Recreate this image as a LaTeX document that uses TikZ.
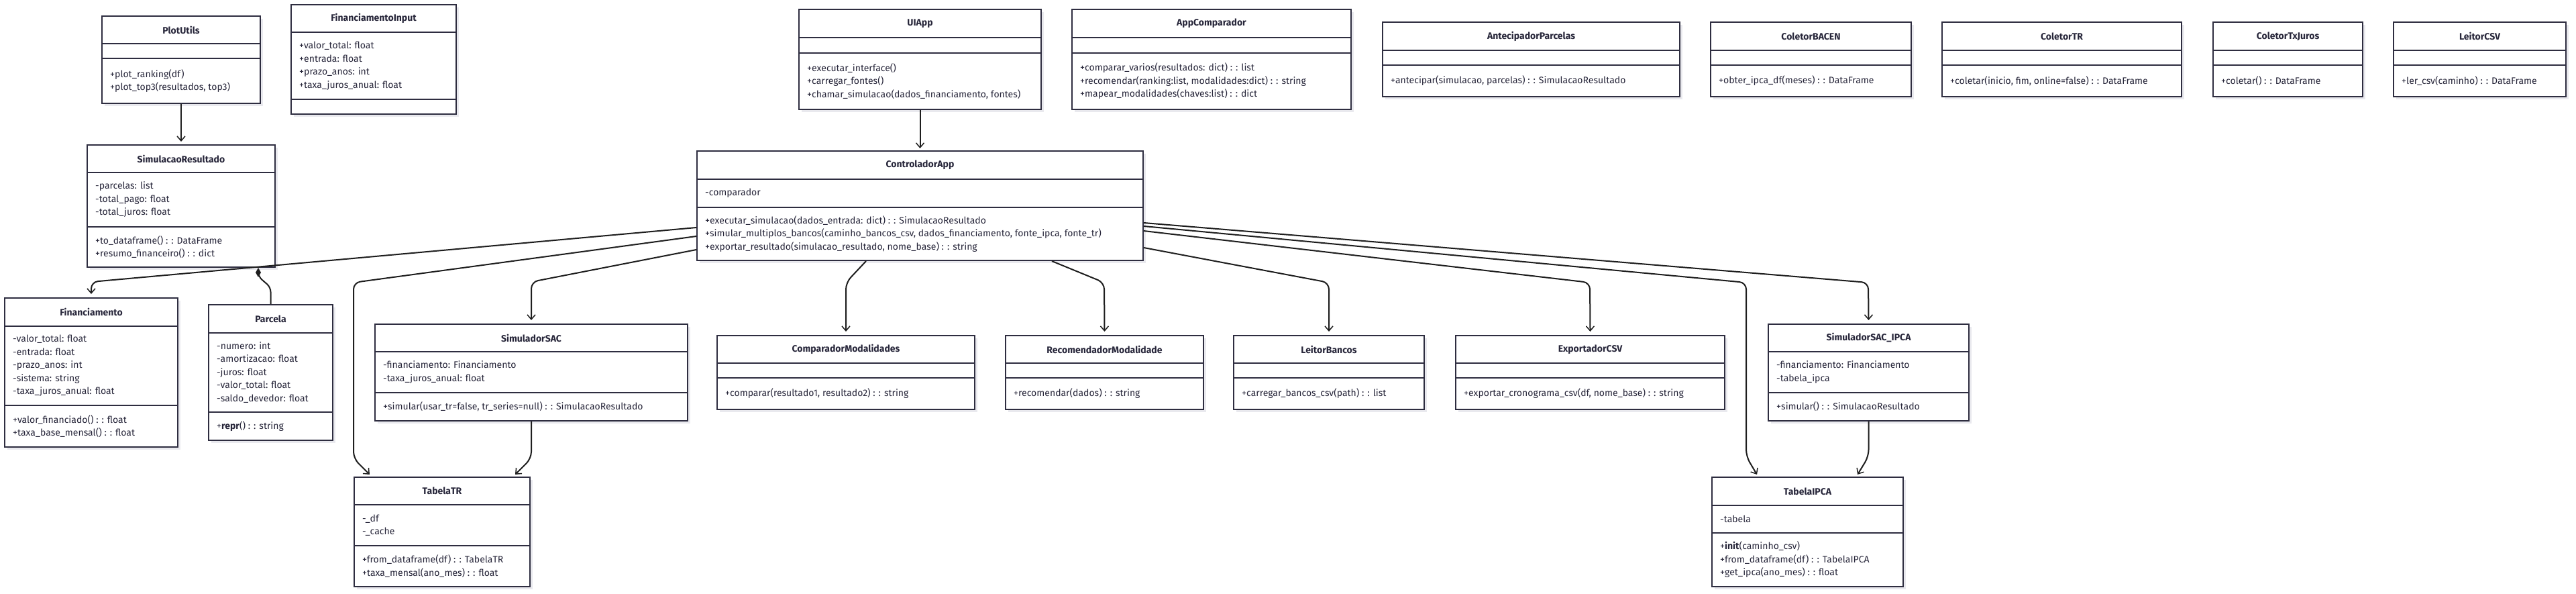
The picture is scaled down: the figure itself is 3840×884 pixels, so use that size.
\documentclass[tikz,border=0pt]{standalone}
\usepackage{fontspec}
\setmainfont{Fira Sans}
\usetikzlibrary{arrows.meta,fit}
\definecolor{textc}{HTML}{27263A}
\definecolor{linec}{HTML}{2E2D40}
\definecolor{connc}{HTML}{1E1E1E}
\definecolor{shadowc}{HTML}{E9E9EE}
\tikzset{
  classframe/.style={draw=linec, fill=white, line width=2pt, inner sep=0pt},
  sepline/.style={draw=linec, line width=2pt},
  titletext/.style={font=\fontsize{14}{16}\selectfont\bfseries, text=textc, inner sep=0pt},
  membertext/.style={font=\fontsize{14}{19.5}\selectfont, text=textc, align=left, inner sep=0pt},
  conn/.style={draw=connc, line width=2pt, rounded corners=10pt, -{Straight Barb[length=7pt,width=12pt,line width=1.5pt]}},
  comp/.style={draw=connc, line width=2pt, rounded corners=7pt, -{Diamond[length=14pt,width=8pt]}},
}
% name, x1, y1, x2, y2, sep1, sep2, title
\newcommand\umlframe[8]{%
  \fill[shadowc] (#2+4,#3+4) rectangle (#4+4,#5+4);
  \node[classframe, fit={(#2,#3)(#4,#5)}] (#1) {};
  \draw[sepline] (#2,#6) -- (#4,#6);
  \draw[sepline] (#2,#7) -- (#4,#7);
  \node[titletext] (#1-title) at ({(#2+#4)/2},{(#3+#6)/2}) {#8};
  \coordinate (#1-a) at (#2+12,{(#6+#7)/2});
  \coordinate (#1-m) at (#2+12,{(#7+#5)/2});
}
\newcommand\umlbody[3]{%
  \node[membertext, anchor=west] (#1-attr) at (#1-a) {#2};
  \node[membertext, anchor=west] (#1-meth) at (#1-m) {#3};
}
\begin{document}
\begin{tikzpicture}[x=1pt,y=-1pt]
\useasboundingbox[fill=white] (0,0) rectangle (3840,884);

% top row
\umlframe{PlotUtils}{152}{24}{388}{154}{65}{87}{PlotUtils}
\umlbody{PlotUtils}{}{+plot\_ranking(df)\\+plot\_top3(resultados, top3)}
\umlframe{FinanciamentoInput}{434}{7}{680}{170}{48}{148}{FinanciamentoInput}
\umlbody{FinanciamentoInput}{+valor\_total: float\\+entrada: float\\+prazo\_anos: int\\+taxa\_juros\_anual: float}{}
\umlframe{UIApp}{1191}{14}{1552}{163}{56}{79}{UIApp}
\umlbody{UIApp}{}{+executar\_interface()\\+carregar\_fontes()\\+chamar\_simulacao(dados\_financiamento, fontes)}
\umlframe{AppComparador}{1598}{14}{2014}{163}{56}{79}{AppComparador}
\umlbody{AppComparador}{}{+comparar\_varios(resultados: dict) : : list\\+recomendar(ranking:list, modalidades:dict) : : string\\+mapear\_modalidades(chaves:list) : : dict}
\umlframe{AntecipadorParcelas}{2061}{33}{2504}{144}{75}{97}{AntecipadorParcelas}
\umlbody{AntecipadorParcelas}{}{+antecipar(simulacao, parcelas) : : SimulacaoResultado}
\umlframe{ColetorBACEN}{2550}{33}{2849}{144}{75}{97}{ColetorBACEN}
\umlbody{ColetorBACEN}{}{+obter\_ipca\_df(meses) : : DataFrame}
\umlframe{ColetorTR}{2895}{33}{3252}{144}{75}{97}{ColetorTR}
\umlbody{ColetorTR}{}{+coletar(inicio, fim, online=false) : : DataFrame}
\umlframe{ColetorTxJuros}{3299}{33}{3522}{144}{75}{97}{ColetorTxJuros}
\umlbody{ColetorTxJuros}{}{+coletar() : : DataFrame}
\umlframe{LeitorCSV}{3568}{33}{3825}{144}{75}{97}{LeitorCSV}
\umlbody{LeitorCSV}{}{+ler\_csv(caminho) : : DataFrame}

% second row
\umlframe{SimulacaoResultado}{130}{216}{410}{398}{257}{338}{SimulacaoResultado}
\umlbody{SimulacaoResultado}{-parcelas: list\\-total\_pago: float\\-total\_juros: float}{+to\_dataframe() : : DataFrame\\+resumo\_financeiro() : : dict}
\umlframe{ControladorApp}{1039}{225}{1704}{388}{267}{309}{ControladorApp}
\umlbody{ControladorApp}{-comparador}{+executar\_simulacao(dados\_entrada: dict) : : SimulacaoResultado\\+simular\_multiplos\_bancos(caminho\_bancos\_csv, dados\_financiamento, fonte\_ipca, fonte\_tr)\\+exportar\_resultado(simulacao\_resultado, nome\_base) : : string}

% third row
\umlframe{Financiamento}{7}{444}{265}{666}{486}{604}{Financiamento}
\umlbody{Financiamento}{-valor\_total: float\\-entrada: float\\-prazo\_anos: int\\-sistema: string\\-taxa\_juros\_anual: float}{+valor\_financiado() : : float\\+taxa\_base\_mensal() : : float}
\umlframe{Parcela}{311}{454}{496}{656}{496}{614}{Parcela}
\umlbody{Parcela}{-numero: int\\-amortizacao: float\\-juros: float\\-valor\_total: float\\-saldo\_devedor: float}{+\textbf{repr}() : : string}
\umlframe{SimuladorSAC}{559}{483}{1025}{627}{524}{585}{SimuladorSAC}
\umlbody{SimuladorSAC}{-financiamento: Financiamento\\-taxa\_juros\_anual: float}{+simular(usar\_tr=false, tr\_series=null) : : SimulacaoResultado}
\umlframe{ComparadorModalidades}{1069}{500}{1453}{610}{541}{563}{ComparadorModalidades}
\umlbody{ComparadorModalidades}{}{+comparar(resultado1, resultado2) : : string}
\umlframe{RecomendadorModalidade}{1499}{500}{1794}{610}{541}{563}{RecomendadorModalidade}
\umlbody{RecomendadorModalidade}{}{+recomendar(dados) : : string}
\umlframe{LeitorBancos}{1839}{500}{2123}{610}{541}{563}{LeitorBancos}
\umlbody{LeitorBancos}{}{+carregar\_bancos\_csv(path) : : list}
\umlframe{ExportadorCSV}{2170}{500}{2571}{610}{541}{563}{ExportadorCSV}
\umlbody{ExportadorCSV}{}{+exportar\_cronograma\_csv(df, nome\_base) : : string}
\umlframe{SimuladorSACIPCA}{2636}{483}{2935}{627}{524}{585}{SimuladorSAC\_IPCA}
\umlbody{SimuladorSACIPCA}{-financiamento: Financiamento\\-tabela\_ipca}{+simular() : : SimulacaoResultado}

% bottom row
\umlframe{TabelaTR}{528}{711}{790}{874}{752}{813}{TabelaTR}
\umlbody{TabelaTR}{-\_df\\-\_cache}{+from\_dataframe(df) : : TabelaTR\\+taxa\_mensal(ano\_mes) : : float}
\umlframe{TabelaIPCA}{2552}{711}{2837}{874}{753}{794}{TabelaIPCA}
\umlbody{TabelaIPCA}{-tabela}{+\textbf{init}(caminho\_csv)\\+from\_dataframe(df) : : TabelaIPCA\\+get\_ipca(ano\_mes) : : float}

% connectors
\draw[conn] (PlotUtils.south) -- ([yshift=4pt]SimulacaoResultado.north);
\draw[conn] (UIApp.south) -- ([yshift=3pt]ControladorApp.north);
\draw[conn] (ControladorApp.north west) ++(0,115) -- (136,420) -- ([yshift=5pt]Financiamento.north);
\draw[conn] (ControladorApp.north west) ++(0,128) -- (527,421) -- (527,683) -- ([shift={(24,-3)}]TabelaTR.north west);
\draw[conn] (ControladorApp.north west) ++(0,148) -- (792,420) -- ([yshift=5pt]SimuladorSAC.north);
\draw[conn] ([xshift=253pt]ControladorApp.south west) -- (1261,421) -- ([yshift=5pt]ComparadorModalidades.north);
\draw[conn] ([xshift=530pt]ControladorApp.south west) -- (1646,421) -- ([yshift=5pt]RecomendadorModalidade.north);
\draw[conn] (ControladorApp.north east) ++(0,145) -- (1981,421) -- ([yshift=5pt]LeitorBancos.north);
\draw[conn] (ControladorApp.north east) ++(0,120) -- (2370,421) -- ([yshift=5pt]ExportadorCSV.north);
\draw[conn] (ControladorApp.north east) ++(0,113) -- (2603,421) -- (2603,680) -- ([shift={(68,-3)}]TabelaIPCA.north west);
\draw[conn] (ControladorApp.north east) ++(0,108) -- (2785,421) -- ([yshift=5pt]SimuladorSACIPCA.north);
\draw[conn] (SimuladorSAC.south) -- (792,683) -- ([shift={(-23,-3)}]TabelaTR.north east);
\draw[conn] (SimuladorSACIPCA.south) -- (2785.5,680) -- ([shift={(-69,-3)}]TabelaIPCA.north east);
\draw[comp] (Parcela.north) -- (403.5,428) -- (385,412) -- ([xshift=-26pt]SimulacaoResultado.south east);
\end{tikzpicture}
\end{document}
